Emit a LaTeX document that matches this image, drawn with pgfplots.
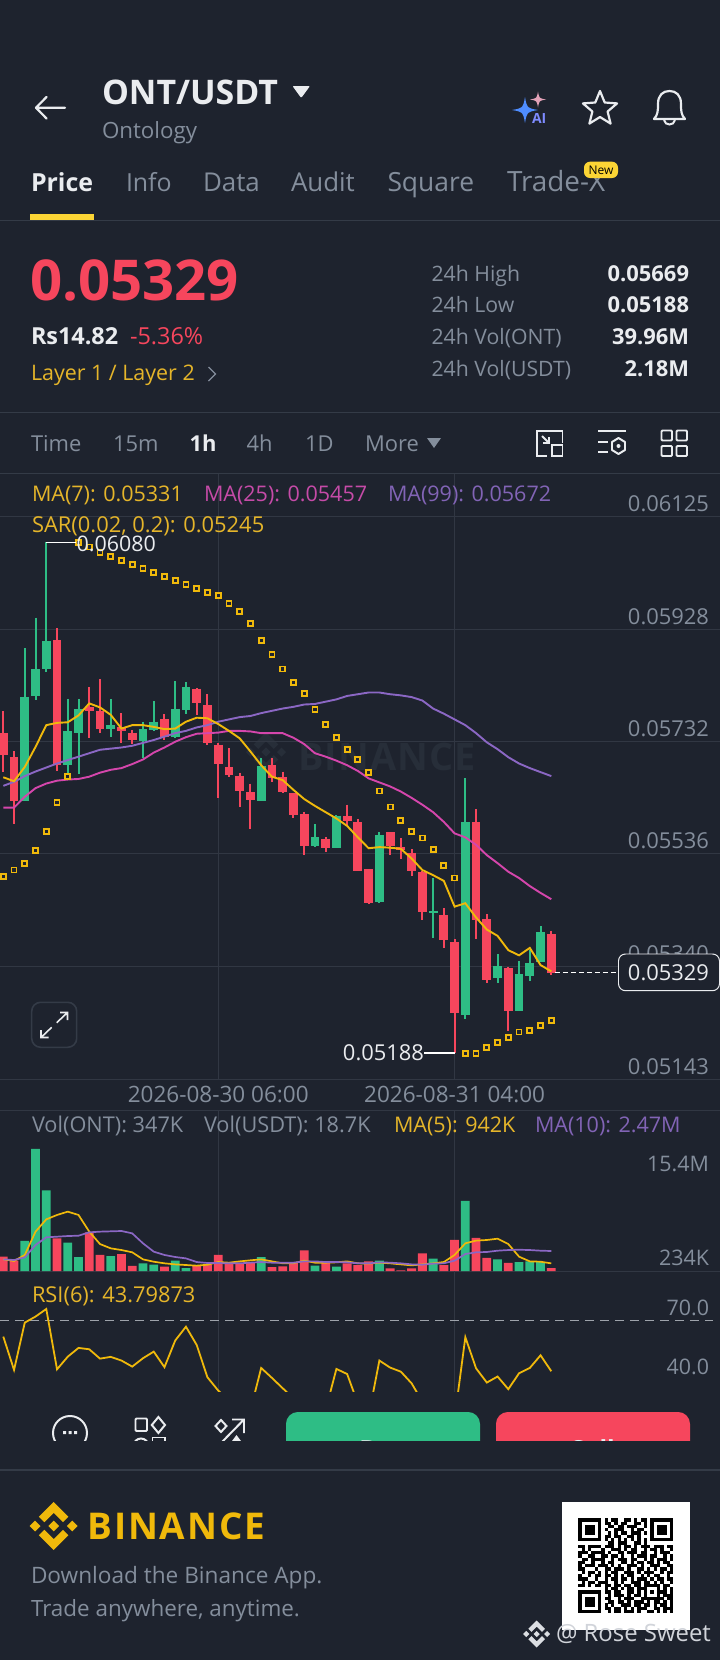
\documentclass[border=0pt]{standalone}
\usepackage{fontspec}
\setmainfont{Open Sans}
\usepackage{pgfplots}
\usepackage{pgfplotstable}
\pgfplotsset{compat=1.18}
\definecolor{bg}{HTML}{1E232E}
\definecolor{gridc}{HTML}{313743}
\definecolor{divc}{HTML}{343B47}
\definecolor{upc}{HTML}{2EBD85}
\definecolor{dnc}{HTML}{F6465D}
\definecolor{gold}{HTML}{F0B90B}
\definecolor{goldt}{HTML}{E5B52A}
\definecolor{newc}{HTML}{FCD535}
\definecolor{magl}{HTML}{D546AC}
\definecolor{magt}{HTML}{C64BA8}
\definecolor{purl}{HTML}{8B67C4}
\definecolor{purt}{HTML}{8264B6}
\definecolor{gr}{HTML}{848E9C}
\definecolor{wh}{HTML}{EAECEF}
\definecolor{wmk}{HTML}{272E39}
\definecolor{dashc}{HTML}{9EA3AB}
\definecolor{aib}{HTML}{4F8DFF}
\definecolor{aip}{HTML}{E3A2B8}
\definecolor{ait}{HTML}{7E8BFF}

% i hi top bot lo vol(M)
\pgfplotstableread{
i hi top bot lo v
2 0.05895 0.05811 0.05629 0.05628 3.71
3 0.05949 0.05859 0.05812 0.05805 15.07
4 0.06080 0.05908 0.05859 0.05854 9.96
6 0.05807 0.05750 0.05691 0.05676 3.50
7 0.05807 0.05790 0.05747 0.05676 1.73
10 0.05807 0.05761 0.05755 0.05741 1.85
13 0.05767 0.05754 0.05734 0.05703 0.95
14 0.05803 0.05767 0.05752 0.05751 0.78
16 0.05838 0.05790 0.05741 0.05738 1.28
17 0.05836 0.05828 0.05787 0.05780 0.37
24 0.05703 0.05690 0.05629 0.05629 1.73
29 0.05588 0.05565 0.05550 0.05549 0.66
31 0.05604 0.05603 0.05547 0.05546 0.54
35 0.05574 0.05569 0.05453 0.05451 1.28
40 0.05494 0.05437 0.05433 0.05390 1.52
43 0.05668 0.05592 0.05255 0.05248 8.65
46 0.05361 0.05340 0.05319 0.05311 1.44
48 0.05349 0.05326 0.05262 0.05261 1.11
49 0.05368 0.05345 0.05323 0.05314 1.19
50 0.05410 0.05399 0.05348 0.05347 1.11
}\greentab
\pgfplotstableread{
i hi top bot lo v
0 0.05785 0.05747 0.05708 0.05680 1.77
1 0.05715 0.05705 0.05629 0.05588 1.28
5 0.05931 0.05910 0.05691 0.05681 4.03
8 0.05827 0.05792 0.05786 0.05738 4.78
9 0.05841 0.05786 0.05755 0.05748 1.98
11 0.05782 0.05757 0.05750 0.05729 2.10
12 0.05752 0.05748 0.05735 0.05728 0.62
15 0.05780 0.05771 0.05741 0.05735 0.54
18 0.05826 0.05825 0.05800 0.05779 0.66
19 0.05815 0.05796 0.05730 0.05726 0.82
20 0.05729 0.05727 0.05694 0.05634 1.98
21 0.05721 0.05688 0.05674 0.05671 0.95
22 0.05678 0.05673 0.05646 0.05618 0.95
23 0.05659 0.05644 0.05630 0.05579 1.03
25 0.05703 0.05691 0.05668 0.05661 0.49
26 0.05680 0.05670 0.05645 0.05643 0.58
27 0.05643 0.05642 0.05604 0.05599 1.03
28 0.05610 0.05605 0.05550 0.05535 2.55
30 0.05565 0.05563 0.05547 0.05540 1.15
32 0.05622 0.05602 0.05594 0.05587 0.95
33 0.05597 0.05592 0.05507 0.05506 0.74
34 0.05510 0.05509 0.05451 0.05449 1.19
36 0.05574 0.05574 0.05550 0.05534 0.33
37 0.05564 0.05548 0.05543 0.05528 0.08
38 0.05544 0.05538 0.05507 0.05498 0.33
39 0.05506 0.05505 0.05435 0.05421 2.18
41 0.05441 0.05429 0.05385 0.05372 0.74
42 0.05387 0.05382 0.05258 0.05188 3.83
44 0.05614 0.05591 0.05420 0.05388 4.08
45 0.05431 0.05422 0.05316 0.05311 1.61
47 0.05339 0.05337 0.05261 0.05227 0.99
51 0.05402 0.05396 0.05329 0.05325 0.347
}\redtab
% i ma7 ma25 ma99 sar vma5 vma10 rsi
\pgfplotstableread{
i ma7 ma25 ma99 sar vma5 vma10 rsi
0 0.05670 0.05617 0.05655 0.05496 1.44 1.44 61.6
1 0.05663 0.05617 0.05662 0.05508 1.24 1.36 44.5
2 0.05688 0.05636 0.05672 0.05520 1.98 1.69 68.8
3 0.05723 0.05651 0.05680 0.05542 4.86 3.21 71.9
4 0.05761 0.05659 0.05687 0.05575 6.38 4.16 75.8
5 0.05765 0.05664 0.05694 0.05626 6.92 4.24 44.8
6 0.05766 0.05666 0.05700 0.05671 7.33 4.32 51.3
7 0.05778 0.05667 0.05706 0.06080 6.92 4.36 55.8
8 0.05799 0.05671 0.05712 0.06072 4.86 4.78 55.1
9 0.05792 0.05678 0.05718 0.06063 3.33 4.86 50.3
10 0.05779 0.05683 0.05720 0.06056 2.80 4.90 51.2
11 0.05755 0.05686 0.05722 0.06049 2.59 4.94 49.3
12 0.05761 0.05693 0.05725 0.06041 2.31 4.65 46.2
13 0.05761 0.05701 0.05730 0.06034 1.44 3.42 50.5
14 0.05758 0.05713 0.05735 0.06027 1.15 2.39 53.9
15 0.05754 0.05722 0.05741 0.06020 0.95 1.98 45.9
16 0.05755 0.05732 0.05747 0.06013 0.82 1.73 59.6
17 0.05767 0.05740 0.05751 0.06006 0.74 1.56 66.7
18 0.05774 0.05746 0.05757 0.05999 0.66 1.11 57.3
19 0.05773 0.05747 0.05761 0.05993 0.78 0.99 40.7
20 0.05763 0.05748 0.05767 0.05987 1.11 0.99 33.9
21 0.05751 0.05751 0.05771 0.05973 1.03 0.95 29.0
22 0.05738 0.05751 0.05775 0.05959 1.19 0.95 26.0
23 0.05715 0.05750 0.05777 0.05938 1.32 1.03 23.7
24 0.05691 0.05747 0.05782 0.05909 1.44 1.11 45.5
25 0.05671 0.05747 0.05786 0.05884 1.19 1.03 40.4
26 0.05665 0.05747 0.05790 0.05859 0.95 1.03 35.1
27 0.05648 0.05739 0.05793 0.05836 0.95 1.03 29.9
28 0.05632 0.05728 0.05797 0.05816 1.28 1.19 25.0
29 0.05620 0.05712 0.05798 0.05788 1.03 1.19 24.0
30 0.05609 0.05706 0.05802 0.05762 1.03 1.11 23.9
31 0.05598 0.05699 0.05806 0.05740 1.07 1.11 45.0
32 0.05585 0.05691 0.05812 0.05719 1.19 1.07 42.4
33 0.05565 0.05681 0.05815 0.05701 0.95 0.95 27.2
34 0.05546 0.05668 0.05818 0.05678 0.91 0.95 20.9
35 0.05548 0.05661 0.05818 0.05646 1.03 1.07 49.3
36 0.05547 0.05654 0.05815 0.05618 0.95 1.03 45.7
37 0.05545 0.05645 0.05813 0.05594 0.82 0.95 43.6
38 0.05528 0.05634 0.05810 0.05575 0.70 0.82 37.6
39 0.05508 0.05622 0.05804 0.05564 0.82 0.78 28.2
40 0.05499 0.05609 0.05790 0.05544 0.95 0.91 25.0
41 0.05489 0.05592 0.05781 0.05516 1.11 0.95 23.0
42 0.05444 0.05572 0.05771 0.05494 1.98 1.28 19.5
43 0.05450 0.05565 0.05761 0.05188 3.42 2.10 61.3
44 0.05425 0.05552 0.05747 0.05188 3.75 2.31 45.3
45 0.05404 0.05534 0.05731 0.05198 3.83 2.35 38.0
46 0.05393 0.05520 0.05719 0.05207 3.99 2.51 41.1
47 0.05368 0.05505 0.05705 0.05216 3.33 2.59 34.6
48 0.05359 0.05494 0.05694 0.05225 1.77 2.63 42.8
49 0.05372 0.05480 0.05686 0.05228 1.19 2.59 45.5
50 0.05342 0.05468 0.05679 0.05237 1.15 2.51 52.0
51 0.05331 0.05457 0.05672 0.05245 0.942 2.47 43.8
}\linetab

\newcommand\T[6]{\node[anchor=#1,inner sep=0pt,outer sep=0pt,text=#5,font=\fontsize{#4}{#4}\selectfont] at (#2,#3) {#6};}
\newcommand\blogo[4]{\begin{scope}[shift={(#1,#2)},scale=#3]
\fill[#4] (-0.388,-0.16)--(0,-0.5475)--(0.388,-0.16)--(0.614,-0.385)--(0,-1)--(-0.614,-0.385)--cycle;
\fill[#4] (-0.388,0.16)--(0,0.5475)--(0.388,0.16)--(0.614,0.385)--(0,1)--(-0.614,0.385)--cycle;
\fill[#4] (-1,0)--(-0.775,-0.225)--(-0.55,0)--(-0.775,0.225)--cycle;
\fill[#4] (1,0)--(0.775,-0.225)--(0.55,0)--(0.775,0.225)--cycle;
\fill[#4] (-0.226,0)--(0,-0.226)--(0.226,0)--(0,0.226)--cycle;
\end{scope}}
\newcommand\spark[5]{\fill[#5] (#1,#2-#4) .. controls (#1+#3*0.15,#2-#4*0.15) .. (#1+#3,#2) .. controls (#1+#3*0.15,#2+#4*0.15) .. (#1,#2+#4) .. controls (#1-#3*0.15,#2+#4*0.15) .. (#1-#3,#2) .. controls (#1-#3*0.15,#2-#4*0.15) .. cycle;}
\newcount\qc \newcount\qr
\def\qrcell#1{\ifx#1;\else\if#1X\fill[black] ({578.3+3.276*\the\qc},{1518.3+3.276*\the\qr}) rectangle +(3.32,3.32);\fi\advance\qc by1 \expandafter\qrcell\fi}
\def\qrline#1{\qc=0 \qrcell#1;\advance\qr by1 }

\pgfplotsset{panel/.style={scale only axis,width=720bp,xmin=-0.307,xmax=66.70,
  axis line style={draw=none},major tick length=0pt,
  grid=major,grid style={color=gridc,line width=1bp},
  scaled y ticks=false,scaled x ticks=false,
  xtick={20,42},xticklabels={},yticklabels={}}}

\begin{document}
\begin{tikzpicture}
\path[use as bounding box] (0,0) rectangle (720bp,-1660bp);
\fill[bg] (0,0) rectangle (720bp,-1660bp);
\begin{scope}[x=1bp,y=-1bp]
% watermark
\blogo{266}{752}{20}{wmk}
\T{base west}{298}{770}{38}{wmk}{\bfseries\addfontfeature{LetterSpace=3}BINANCE}
\end{scope}

% price panel
\begin{axis}[panel,at={(0,-1079bp)},anchor=south west,height=605bp,
  ymin=0.05143,ymax=0.061996,
  ytick={0.05143,0.05340,0.05536,0.05732,0.05928,0.06125},
  yticklabels={0.05143,0.05340,0.05536,0.05732,0.05928,0.06125},
  yticklabel pos=right,
  yticklabel style={anchor=base east,inner sep=0pt,outer sep=0pt,xshift=-11bp,yshift=5bp,text=gr,font=\fontsize{22}{22}\selectfont},
  xticklabels={2026-08-30 06:00,2026-08-31 04:00},
  xticklabel style={anchor=base,inner sep=0pt,outer sep=0pt,yshift=-23bp,text=gr,font=\fontsize{22.6}{22.6}\selectfont}]
\addplot[draw=none,mark=none,error bars/.cd,y dir=minus,y explicit,error mark=none,error bar style={color=upc,line width=2bp}] table[x=i,y=hi,y error minus expr=\thisrow{hi}-\thisrow{lo}] {\greentab};
\addplot[draw=none,mark=none,error bars/.cd,y dir=minus,y explicit,error mark=none,error bar style={color=upc,line width=8.8bp}] table[x=i,y=top,y error minus expr=\thisrow{top}-\thisrow{bot}] {\greentab};
\addplot[draw=none,mark=none,error bars/.cd,y dir=minus,y explicit,error mark=none,error bar style={color=dnc,line width=2bp}] table[x=i,y=hi,y error minus expr=\thisrow{hi}-\thisrow{lo}] {\redtab};
\addplot[draw=none,mark=none,error bars/.cd,y dir=minus,y explicit,error mark=none,error bar style={color=dnc,line width=8.8bp}] table[x=i,y=top,y error minus expr=\thisrow{top}-\thisrow{bot}] {\redtab};
\addplot[color=purl,line width=1.9bp,mark=none] table[x=i,y=ma99] {\linetab};
\addplot[color=magl,line width=1.9bp,mark=none] table[x=i,y=ma25] {\linetab};
\addplot[color=gold,line width=1.9bp,mark=none] table[x=i,y=ma7] {\linetab};
\addplot[only marks,mark=square*,mark size=2.5bp,mark options={fill=bg,draw=gold,line width=1.8bp}] table[x=i,y=sar] {\linetab};
\end{axis}

% volume panel
\begin{axis}[panel,at={(0,-1271bp)},anchor=south west,height=161bp,
  ymin=0,ymax=19.88,ytick={0,19.88}]
\addplot[ybar,bar width=8.8bp,bar shift=0pt,fill=upc,draw=none] table[x=i,y=v] {\greentab};
\addplot[ybar,bar width=8.8bp,bar shift=0pt,fill=dnc,draw=none] table[x=i,y=v] {\redtab};
\addplot[color=gold,line width=1.7bp,mark=none] table[x=i,y=vma5] {\linetab};
\addplot[color=purl,line width=1.7bp,mark=none] table[x=i,y=vma10] {\linetab};
\end{axis}

% RSI panel
\begin{axis}[panel,at={(0,-1391.7bp)},anchor=south west,height=120.7bp,
  ymin=33.3,ymax=95.3,ytick=\empty]
\addplot[color=dashc,line width=1.5bp,dash pattern=on 9bp off 6bp,mark=none] coordinates {(-0.307,70)(66.05,70)};
\addplot[color=gold,line width=1.8bp,mark=none] table[x=i,y=rsi] {\linetab};
\end{axis}

\begin{scope}[x=1bp,y=-1bp]
% chart texts
\T{base west}{32}{501}{21.6}{goldt}{MA(7): 0.05331}
\T{base west}{204}{501}{21.6}{magt}{MA(25): 0.05457}
\T{base west}{388}{501}{21.6}{purt}{MA(99): 0.05672}
\T{base west}{32}{532.7}{22}{goldt}{SAR(0.02, 0.2): 0.05245}
\draw[white,line width=1.2] (46,542.3)--(76,542.3);
\T{base west}{76.7}{551.5}{21.5}{wh}{0.06080}
\draw[white,line width=1.2] (424,1053)--(454.6,1053);
\T{base east}{424}{1060.7}{22}{wh}{0.05188}
\draw[white,line width=1,dash pattern=on 5 off 3] (555,972.3)--(618,972.3);
\draw[wh,line width=1,fill=bg,rounded corners=7] (618.5,954)rectangle(719.5,990.7);
\T{base east}{709}{980.7}{22}{wh}{0.05329}
% expand button
\draw[divc,line width=1.6,rounded corners=9] (31.7,1002.3) rectangle (76.7,1047.3);
\draw[wh,line width=1.6] (56.7,1022.7)--(67.5,1012.5) (60,1012.5)--(67.5,1012.5)--(67.5,1020);
\draw[wh,line width=1.6] (51.7,1027.3)--(41,1037.5) (41,1030)--(41,1037.5)--(48.5,1037.5);
% volume texts
\T{base west}{32}{1132.7}{21.8}{gr}{Vol(ONT): 347K}
\T{base west}{204}{1132.7}{21.8}{gr}{Vol(USDT): 18.7K}
\T{base west}{394}{1132.7}{21.6}{goldt}{MA(5): 942K}
\T{base west}{535}{1132.7}{21.6}{purt}{MA(10): 2.47M}
\T{base east}{709}{1171}{21.5}{gr}{15.4M}
\T{base east}{709}{1265}{21.5}{gr}{234K}
\T{base west}{32}{1302.3}{21.9}{goldt}{RSI(6): 43.79873}
\T{base east}{709}{1315}{21.5}{gr}{70.0}
\T{base east}{709}{1374}{21.5}{gr}{40.0}
% header
\draw[wh,line width=2.2,line join=round,line cap=round] (65,107.7)--(36,107.7) (46.5,97)--(36,107.7)--(46.5,118.5);
\T{base west}{102}{104}{34}{wh}{\bfseries ONT/USDT}
\fill[wh,rounded corners=1] (292.5,86)--(310,86)--(301.2,98)--cycle;
\T{base west}{102}{138}{22.4}{gr}{Ontology}
\T{base west}{31}{191.7}{25}{wh}{\bfseries Price}
\T{base west}{126}{191.7}{25}{gr}{Info}
\T{base west}{203}{191.7}{26}{gr}{Data}
\T{base west}{291}{191.7}{26}{gr}{Audit}
\T{base west}{387.5}{191.7}{26.5}{gr}{Square}
\T{base west}{507}{191.7}{28}{gr}{Trade-X}
\fill[fill=newc,rounded corners=6] (584,161.7) rectangle (618,178);
\T{base}{601}{174.5}{12}{black}{New}
\fill[newc] (30,214) rectangle (94,220);
\draw[divc,line width=1] (0,220.5)--(720,220.5);
\spark{525}{110}{13}{13}{aib}
\spark{538}{99.5}{8}{8}{aip}
\T{base west}{532}{123}{14}{ait}{\bfseries AI}
\draw[wh,line width=2.2,line join=round] (600,91)--(604.7,102.5)--(617.1,103.4)--(607.6,111.5)--(610.6,123.6)--(600,117)--(589.4,123.6)--(592.4,111.5)--(582.9,103.4)--(595.3,102.5)--cycle;
\draw[wh,line width=2.2,line join=round] (654,119) .. controls (658,115) and (658,110) .. (658,104) .. controls (658,95) and (663,91) .. (669.5,91) .. controls (676,91) and (681,95) .. (681,104) .. controls (681,110) and (681,115) .. (685,119) -- cycle;
\draw[wh,line width=2] (664,120) .. controls (665,126) and (674,126) .. (675,120);
% price block
\T{base west}{30}{300}{56.5}{dnc}{\bfseries 0.05329}
\T{base west}{31}{344}{23.5}{wh}{\bfseries Rs14.82}
\T{base west}{130}{344}{23.5}{dnc}{-5.36\%}
\T{base west}{31}{380}{21.5}{goldt}{Layer 1 / Layer 2}
\draw[gr,line width=1.3] (208.5,367)--(215.5,374)--(208.5,381);
\T{base west}{431.6}{281}{21.3}{gr}{24h High}
\T{base west}{431.6}{312.7}{21.3}{gr}{24h Low}
\T{base west}{431.6}{344.3}{21.3}{gr}{24h Vol(ONT)}
\T{base west}{431.6}{376.7}{21.3}{gr}{24h Vol(USDT)}
\T{base east}{689}{281}{22}{wh}{\bfseries 0.05669}
\T{base east}{689}{312.7}{22}{wh}{\bfseries 0.05188}
\T{base east}{689}{344.3}{22}{wh}{\bfseries 39.96M}
\T{base east}{689}{376.7}{22}{wh}{\bfseries 2.18M}
\draw[divc,line width=1] (0,412.3)--(720,412.3);
\T{base west}{31}{451.7}{22}{gr}{Time}
\T{base west}{113}{451.7}{22}{gr}{15m}
\T{base west}{189.6}{451.7}{22}{wh}{\bfseries 1h}
\T{base west}{246.6}{451.7}{22}{gr}{4h}
\T{base west}{305}{451.7}{22}{gr}{1D}
\T{base west}{365}{451.7}{22}{gr}{More}
\fill[gr] (427,438)--(441,438)--(434,448)--cycle;
% tool icons
\draw[wh,line width=2] (547,456)--(537,456)--(537,431)--(562.5,431)--(562.5,443);
\draw[wh,line width=2] (552,445) rectangle (562.5,456);
\draw[wh,line width=1.8] (542,436)--(549,443) (549,437)--(549,443)--(543,443);
\draw[wh,line width=2] (598,431)--(626,431) (598,442)--(608,442) (598,452)--(608,452);
\draw[wh,line width=2,line join=round] (618.5,438)--(625,442)--(625,450)--(618.5,454)--(612,450)--(612,442)--cycle;
\fill[wh] (618.5,446) circle (2);
\draw[wh,line width=2,rounded corners=1] (661.5,430.5) rectangle (672,440.5) (676.5,430.5) rectangle (687,440.5) (661.5,446) rectangle (672,456) (676.5,446) rectangle (687,456);
\draw[divc,line width=1] (0,473.3)--(720,473.3);
% bottom bar (cut off)
\begin{scope}
\clip (0,1400) rectangle (720,1440);
\fill[upc,rounded corners=12] (286,1412) rectangle (480,1470);
\fill[dnc,rounded corners=12] (496,1412) rectangle (690,1470);
\T{base}{383}{1458}{25}{wh}{\bfseries Buy}
\T{base}{593}{1458}{25}{wh}{\bfseries Sell}
\draw[wh,line width=2] (70,1433) ellipse (17 and 17);
\fill[wh] (63,1431) rectangle +(3,3) (68.5,1431) rectangle +(3,3) (74,1431) rectangle +(3,3);
\draw[wh,line width=2,rounded corners=1] (135.5,1418.5) rectangle (147,1431);
\draw[wh,line width=2] (158.4,1417)--(165,1425)--(158.4,1433)--(151.8,1425)--cycle;
\draw[wh,line width=2] (141,1446) circle (7.5);
\draw[wh,line width=2] (152.5,1437.5) rectangle (165,1450);
\draw[wh,line width=2] (222,1442)--(244,1419.5) (232,1419.5)--(244,1419.5)--(244,1433);
\draw[wh,line width=2] (221,1420)--(226.5,1426)--(221,1432)--(215.5,1426)--cycle;
\fill[wh] (236.5,1435)--(241,1441)--(232,1441)--cycle;
\end{scope}
\draw[divc,line width=2] (0,1470)--(720,1470);
% footer
\blogo{53.7}{1526}{24}{gold}
\T{base west}{87.5}{1539}{37}{gold}{\bfseries\addfontfeature{LetterSpace=5}BINANCE}
\T{base west}{31}{1583.3}{22.7}{gr}{Download the Binance App.}
\T{base west}{31}{1616}{22.5}{gr}{Trade anywhere, anytime.}
\fill[white] (561.7,1501.7) rectangle (690,1630);
\global\qr=0
\qrline{XXXXXXX.X.XX..XX.X.XX.XXXXXXX}
\qrline{X.....X.XX.X.XX..XX.X.X.....X}
\qrline{X.XXX.X..XX.XX.XXX..X.X.XXX.X}
\qrline{X.XXX.X.X..XXX..X.XX..X.XXX.X}
\qrline{X.XXX.X..X.X.XX.XXX.X.X.XXX.X}
\qrline{X.....X.XX.XX..XX.X...X.....X}
\qrline{XXXXXXX.X.X.X.X.X.X.X.XXXXXXX}
\qrline{.........XX.XXX..XX.X........}
\qrline{XX.XXXX.XXX.X.XX.X.XXX.XXX.XX}
\qrline{.X.X...X..XXX.X.XX..X.XX.X..X}
\qrline{XXX.XXXX.X..XX.XXX.XX..X.XXX.}
\qrline{X..XX..XX.XX.X..X.XXX.XX..X.X}
\qrline{.XX.XXXX..X.XXX.XX..X.X.XXX.X}
\qrline{XX..X..X.XX..XX.X.XX.XX.X.XX.}
\qrline{X.XXX.XXX.X.X..XXX.X..XXX..XX}
\qrline{XX...X..XX.XXX.X..XX.X.X.XX.X}
\qrline{.X.XX.X.X.XX..XXX.X.XXX..X.XX}
\qrline{X..X.XX.XX.X.X.XX..X.X.XX..X.}
\qrline{XXX..X..X.XX.XX.X.XXX.X.XX.XX}
\qrline{.X.XX.XXX..X.X..XXX.XX.X.X..X}
\qrline{XX.X.XX.XX.XX.XX.XX.XXXXX.XX.}
\qrline{........X.XX.X.XX.XXX...X.X.X}
\qrline{XXXXXXX.XX.XX..XX.X.X.X.XXX.X}
\qrline{X.....X..X.XXX.X.XX.X...X.XXX}
\qrline{X.XXX.X.XX..X.XXX..XXXXXXX.XX}
\qrline{X.XXX.X..XX.XX.X.XXX.X.XX.X.X}
\qrline{X.XXX.X.X.X..XXX.XX.XX.X.XX.X}
\qrline{X.....X.XX.XX.X.X.XXX..XX.XXX}
\qrline{XXXXXXX..X.XX.XXX.X..XX.X.X.X}
\blogo{536.7}{1634}{13.5}{wh!85!gr}
\T{base west}{556}{1641.7}{24}{wh!75!gr}{@ Rose Sweet}
\end{scope}
\end{tikzpicture}
\end{document}
